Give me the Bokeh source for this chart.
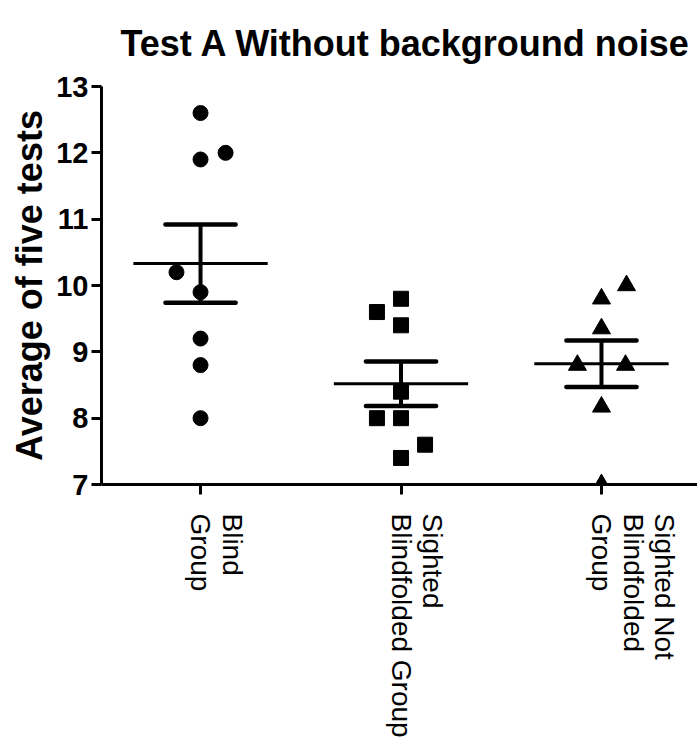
import math
from bokeh.plotting import figure
from bokeh.models import ColumnDataSource, FixedTicker, Range1d
from bokeh.embed import file_html
from bokeh.resources import INLINE

# ---- data ----
title_text = "Test A Without background noise"
groups = ["Blind\nGroup", "Sighted\nBlindfolded Group", "Sighted Not\nBlindfolded\nGroup"]
group_pos = [1, 2, 3]

blind = [12.6, 11.9, 12.0, 10.2, 9.9, 9.2, 8.8, 8.0]
blind_jitter = [0.0, 0.0, 0.125, -0.12, 0.0, 0.0, 0.0, 0.0]

sighted_bf = [9.8, 9.6, 9.4, 8.4, 8.0, 8.0, 7.6, 7.4]
sighted_bf_jitter = [0.0, -0.12, 0.0, 0.0, -0.12, 0.0, 0.12, 0.0]

sighted_nbf = [10.0, 9.8, 9.35, 8.8, 8.8, 8.17, 7.0]
sighted_nbf_jitter = [0.125, 0.0, 0.0, -0.12, 0.12, 0.0, 0.0]

means = [10.33, 8.52, 8.82]
sems = [0.59, 0.335, 0.35]

yticks = [7, 8, 9, 10, 11, 12, 13]

FONT = "Liberation Sans"

p = figure(width=697, height=740, output_backend="svg", toolbar_location=None,
           x_range=Range1d(0.506, 3.479), y_range=Range1d(7, 13),
           min_border_left=101, min_border_right=0, min_border_top=86,
           min_border_bottom=255)

p.title.text = title_text
p.title.text_font = FONT
p.title.text_font_size = "36px"
p.title.text_font_style = "bold"
p.title.text_color = "black"
p.title.align = "left"
p.title.offset = 19
p.title.vertical_align = "top"
p.title.standoff = 42

p.outline_line_color = None
p.grid.grid_line_color = None
p.background_fill_color = "white"
p.border_fill_color = "white"

# y axis
ya = p.yaxis[0]
ya.ticker = FixedTicker(ticks=yticks)
ya.axis_label = "Average of five tests"
ya.axis_label_text_font = FONT
ya.axis_label_text_font_size = "36px"
ya.axis_label_text_font_style = "bold"
ya.axis_label_text_color = "black"
ya.axis_label_standoff = 3
ya.major_label_text_font = FONT
ya.major_label_text_font_size = "29px"
ya.major_label_text_font_style = "bold"
ya.major_label_text_color = "black"
ya.major_label_standoff = 3
ya.axis_line_width = 3
ya.axis_line_color = "black"
ya.major_tick_line_width = 3
ya.major_tick_line_color = "black"
ya.major_tick_out = 10
ya.major_tick_in = 0
ya.minor_tick_line_color = None

# x axis: the last line of each label sits on the tick, as in the original
def tick_label(g):
    n = g.count("\n")
    return g + "\n" * n

xa = p.xaxis[0]
xa.ticker = FixedTicker(ticks=group_pos)
xa.major_label_overrides = {pos: tick_label(g) for pos, g in zip(group_pos, groups)}
xa.major_label_orientation = -math.pi / 2
xa.major_label_text_font = FONT
xa.major_label_text_font_size = "28px"
xa.major_label_text_line_height = 1.02
xa.major_label_text_color = "black"
xa.major_label_standoff = 19
xa.axis_line_width = 3
xa.axis_line_color = "black"
xa.major_tick_line_width = 3
xa.major_tick_line_color = "black"
xa.major_tick_out = 10
xa.major_tick_in = 0
xa.minor_tick_line_color = None

# points
def pts(vals, jit, pos):
    return ColumnDataSource(dict(x=[pos + j for j in jit], y=vals))

p.scatter("x", "y", source=pts(blind, blind_jitter, 1), marker="circle", size=15,
          fill_color="black", line_color="black")
p.scatter("x", "y", source=pts(sighted_bf, sighted_bf_jitter, 2), marker="square", size=15,
          fill_color="black", line_color="black")
p.scatter("x", "y", source=pts(sighted_nbf, sighted_nbf_jitter, 3), marker="triangle", size=18,
          fill_color="black", line_color="black")

# mean lines and SEM bars
mean_w = 0.335
cap_w = 0.175
src_mean = ColumnDataSource(dict(x0=[g - mean_w for g in group_pos], x1=[g + mean_w for g in group_pos],
                                 y=means))
p.segment(x0="x0", y0="y", x1="x1", y1="y", source=src_mean, line_color="black", line_width=3)

lo = [m - s for m, s in zip(means, sems)]
hi = [m + s for m, s in zip(means, sems)]
src_err = ColumnDataSource(dict(x=group_pos, lo=lo, hi=hi,
                                cx0=[g - cap_w for g in group_pos], cx1=[g + cap_w for g in group_pos]))
p.segment(x0="x", y0="lo", x1="x", y1="hi", source=src_err, line_color="black", line_width=4)
p.segment(x0="cx0", y0="hi", x1="cx1", y1="hi", source=src_err, line_color="black", line_width=4.5,
          line_cap="round")
p.segment(x0="cx0", y0="lo", x1="cx1", y1="lo", source=src_err, line_color="black", line_width=4.5,
          line_cap="round")

open("out.html", "w").write(file_html(p, INLINE))
